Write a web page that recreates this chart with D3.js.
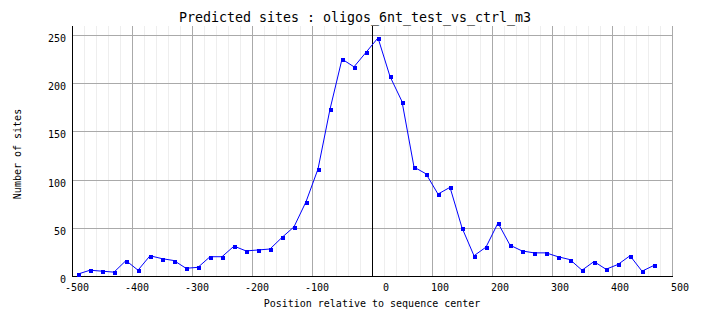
<!DOCTYPE html>
<html>
<head>
<meta charset="utf-8">
<script src="https://cdn.jsdelivr.net/npm/d3@7"></script>
<style>
  html, body { margin: 0; padding: 0; background: #fff; }
  svg { display: block; }
  text { font-family: "DejaVu Sans Mono", "Liberation Mono", monospace; fill: #000; }
</style>
</head>
<body>
<svg id="chart" width="704" height="328"></svg>
<script>
// Site counts per 20-bp bin, positions relative to the sequence centre
const positions = [-490, -470, -450, -430, -410, -390, -370, -350, -330, -310,
  -290, -270, -250, -230, -210, -190, -170, -150, -130, -110,
  -90, -70, -50, -30, -10, 10, 30, 50, 70, 90,
  110, 130, 150, 170, 190, 210, 230, 250, 270, 290,
  310, 330, 350, 370, 390, 410, 430, 450, 470];
const siteCounts = [2, 6, 5, 4, 16, 6, 21, 18, 16, 8,
  9, 20, 20, 31, 26, 27, 28, 40, 51, 77,
  111, 173, 225, 217, 232, 247, 207, 181, 113, 106,
  85, 92, 50, 21, 30, 55, 32, 26, 24, 24,
  20, 17, 6, 15, 7, 12, 21, 5, 11];
const xTicks = [-500, -400, -300, -200, -100, 0, 100, 200, 300, 400, 500];
const yTicks = [0, 50, 100, 150, 200, 250];

const titleText = "Predicted sites : oligos_6nt_test_vs_ctrl_m3";
const xTitle = "Position relative to sequence center";
const yTitle = "Number of sites";

const svg = d3.select("#chart");
const plotLeft = 72, plotRight = 672, plotTop = 26, plotBottom = 276;

const x = d3.scaleLinear().domain([-500, 500]).range([plotLeft, plotRight]);
const y = d3.scaleLinear().domain([0, d3.max(siteCounts) * 1.05]).range([plotBottom, plotTop]);

const px = v => Math.round(x(v)) + 0.5;
const py = v => Math.round(y(v)) + 0.5;

const grid = svg.append("g").attr("shape-rendering", "crispEdges");

// minor vertical grid every 20 bp
grid.selectAll("line.minor")
  .data(d3.range(-500, 501, 20).filter(v => v % 100 !== 0))
  .join("line")
  .attr("class", "minor")
  .attr("x1", d => px(d)).attr("x2", d => px(d))
  .attr("y1", plotTop).attr("y2", plotBottom)
  .attr("stroke", "#eeeeee");

// major vertical grid
grid.selectAll("line.vmajor")
  .data(xTicks)
  .join("line")
  .attr("class", "vmajor")
  .attr("x1", d => px(d)).attr("x2", d => px(d))
  .attr("y1", plotTop).attr("y2", plotBottom)
  .attr("stroke", "#aaaaaa");

// horizontal grid
grid.selectAll("line.hmajor")
  .data(yTicks.filter(v => v > 0))
  .join("line")
  .attr("class", "hmajor")
  .attr("x1", plotLeft).attr("x2", plotRight)
  .attr("y1", d => py(d)).attr("y2", d => py(d))
  .attr("stroke", "#aaaaaa");

// sequence centre marker
grid.append("line")
  .attr("x1", px(0)).attr("x2", px(0))
  .attr("y1", plotTop).attr("y2", plotBottom)
  .attr("stroke", "#000");

// axes
grid.append("line")
  .attr("x1", plotLeft + 0.5).attr("x2", plotLeft + 0.5)
  .attr("y1", plotTop).attr("y2", plotBottom + 1)
  .attr("stroke", "#000");
grid.append("line")
  .attr("x1", plotLeft).attr("x2", plotRight + 1)
  .attr("y1", plotBottom + 0.5).attr("y2", plotBottom + 0.5)
  .attr("stroke", "#000");

// tick labels
svg.append("g").selectAll("text")
  .data(xTicks)
  .join("text")
  .attr("x", d => x(d) + 17)
  .attr("y", 291)
  .attr("text-anchor", "end")
  .attr("font-size", 10)
  .text(d => d);

svg.append("g").selectAll("text")
  .data(yTicks)
  .join("text")
  .attr("x", 66)
  .attr("y", d => y(d) + 7)
  .attr("text-anchor", "end")
  .attr("font-size", 10)
  .text(d => d);

// data line and markers
const data = positions.map((p, i) => ({ p, v: siteCounts[i] }));
svg.append("path")
  .datum(data)
  .attr("fill", "none")
  .attr("stroke", "#0000ff")
  .attr("stroke-width", 1)
  .attr("d", d3.line().x(d => x(d.p)).y(d => y(d.v)));

svg.append("g").attr("shape-rendering", "crispEdges")
  .selectAll("rect")
  .data(data)
  .join("rect")
  .attr("x", d => Math.round(x(d.p)) - 1)
  .attr("y", d => Math.round(y(d.v)) - 1)
  .attr("width", 3.5).attr("height", 3.5)
  .attr("fill", "#0000ff");

// titles
svg.append("text")
  .attr("x", 355).attr("y", 22)
  .attr("text-anchor", "middle")
  .attr("font-size", 13.3)
  .text(titleText);

svg.append("text")
  .attr("x", 372).attr("y", 307)
  .attr("text-anchor", "middle")
  .attr("font-size", 10)
  .text(xTitle);

svg.append("text")
  .attr("transform", "translate(21,154) rotate(-90)")
  .attr("text-anchor", "middle")
  .attr("font-size", 10)
  .text(yTitle);
</script>
</body>
</html>
